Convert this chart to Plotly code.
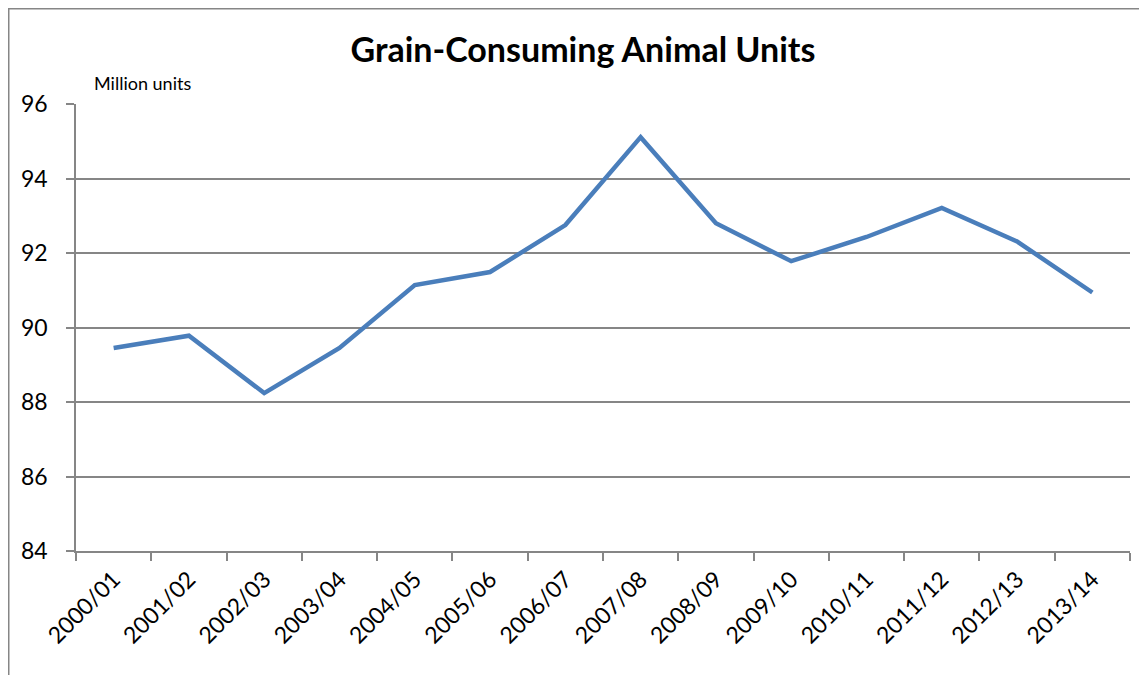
import plotly.graph_objects as go

seasons = ["2000/01", "2001/02", "2002/03", "2003/04", "2004/05", "2005/06", "2006/07",
           "2007/08", "2008/09", "2009/10", "2010/11", "2011/12", "2012/13", "2013/14"]
animal_units = [89.45, 89.78, 88.24, 89.45, 91.14, 91.49, 92.75,
                95.11, 92.80, 91.78, 92.43, 93.21, 92.31, 90.94]
y_ticks = [84, 86, 88, 90, 92, 94, 96]

# page has an 8px body margin, so the figure is sized to fit the window
W, H = 1139, 667
L, R, T, B = 68, 17, 96, 124
plot_w = W - L - R
plot_h = H - T - B
GRAY = "#868686"

fig = go.Figure()

fig.add_trace(go.Scatter(
    x=seasons,
    y=animal_units,
    mode="lines",
    line=dict(color="#4A7EBB", width=4.5),
    hoverinfo="x+y",
))

# outer chart frame (left and top edges visible)
fig.add_shape(type="rect", xref="paper", yref="paper",
              x0=(0.75 - L) / plot_w, x1=(W + 5 - L) / plot_w,
              y0=-(B + 10) / plot_h, y1=1 + (T - 0.75) / plot_h,
              line=dict(color=GRAY, width=1.5), fillcolor="rgba(0,0,0,0)", layer="below")

fig.add_annotation(
    text="Million units", xref="paper", yref="paper",
    x=(84 - L) / plot_w, y=1 + (T - 75) / plot_h,
    xanchor="left", yanchor="middle", showarrow=False,
    font=dict(size=18, color="#000000"),
)

fig.update_layout(
    title=dict(
        text="<b>Grain-Consuming Animal Units</b>",
        x=575 / W, xanchor="center", y=1 - 42 / H, yanchor="middle",
        font=dict(size=34, color="#000000"),
    ),
    width=W, height=H,
    margin=dict(l=L, r=R, t=T, b=B),
    plot_bgcolor="white",
    paper_bgcolor="white",
    showlegend=False,
    font=dict(family="Lato, 'Open Sans', sans-serif", color="#000000"),
)

fig.update_xaxes(
    type="category",
    range=[-0.5, len(seasons) - 0.5],
    tickson="boundaries",
    ticks="outside", ticklen=8, tickcolor=GRAY, tickwidth=1.5,
    showline=True, linecolor=GRAY, linewidth=1.5,
    showgrid=False,
    tickangle=-45,
    ticklabelstandoff=4,
    tickfont=dict(size=23, color="#000000"),
)
fig.update_yaxes(
    range=[84, 96],
    tickvals=y_ticks,
    ticks="outside", ticklen=8, tickcolor=GRAY, tickwidth=1.5,
    showline=True, linecolor=GRAY, linewidth=1.5,
    showgrid=True, gridcolor=GRAY, gridwidth=1.5,
    zeroline=False,
    ticklabelstandoff=14,
    tickfont=dict(size=23, color="#000000"),
)

fig.write_html("out.html")
